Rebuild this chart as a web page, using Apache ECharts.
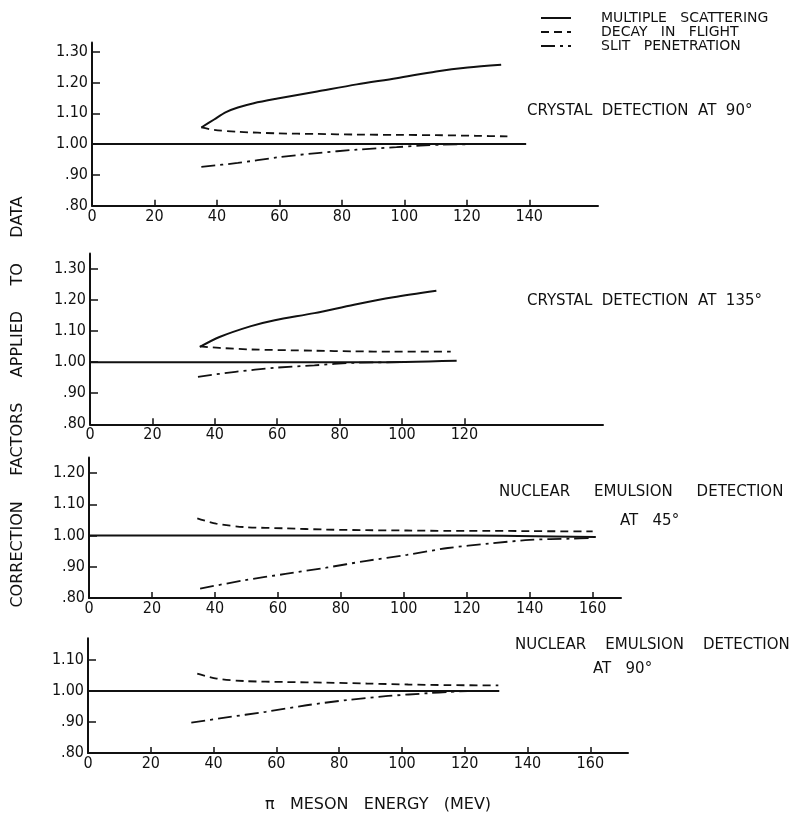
<!DOCTYPE html>
<html>
<head>
<meta charset="utf-8">
<script src="https://cdn.jsdelivr.net/npm/echarts@6/dist/echarts.min.js"></script>
<style>html,body{margin:0;padding:0;background:#fff}#c{width:808px;height:825px}</style>
</head>
<body>
<div id="c"></div>
<script>
// ---- data ----
const seriesNames = ['MULTIPLE   SCATTERING', 'DECAY   IN   FLIGHT', 'SLIT   PENETRATION'];
const panelTitles = ['CRYSTAL  DETECTION  AT  90°', 'CRYSTAL  DETECTION  AT  135°', 'NUCLEAR     EMULSION     DETECTION', 'NUCLEAR    EMULSION    DETECTION'];
const panelSubTitles = ['', '', 'AT   45°', 'AT   90°'];
const xAxisTitle = 'π   MESON   ENERGY   (MEV)';
const yAxisTitle = 'CORRECTION     FACTORS     APPLIED     TO     DATA';

const xTicks1 = [0, 20, 40, 60, 80, 100, 120, 140];
const xTicks2 = [0, 20, 40, 60, 80, 100, 120];
const xTicks3 = [0, 20, 40, 60, 80, 100, 120, 140, 160];
const xTicks4 = [0, 20, 40, 60, 80, 100, 120, 140, 160];
const yTicks1 = [0.8, 0.9, 1.0, 1.1, 1.2, 1.3];
const yTicks2 = [0.8, 0.9, 1.0, 1.1, 1.2, 1.3];
const yTicks3 = [0.8, 0.9, 1.0, 1.1, 1.2];
const yTicks4 = [0.8, 0.9, 1.0, 1.1];

// panel 1: crystal detection at 90°
const p1Base = [[0, 1.0], [139, 1.0]];
const p1MS = [[35, 1.054], [39.1, 1.080], [42.9, 1.104], [46.7, 1.119], [51.8, 1.133], [59.4, 1.148], [72.1, 1.171], [84.8, 1.194], [97.5, 1.214], [110.2, 1.236], [120.3, 1.249], [131, 1.258]];
const p1DF = [[35, 1.054], [39.1, 1.046], [46.7, 1.040], [59.4, 1.035], [72.1, 1.033], [84.8, 1.031], [97.5, 1.030], [110.2, 1.029], [122.9, 1.027], [133, 1.025]];
const p1SP = [[35, 0.926], [46.7, 0.939], [59.4, 0.957], [72.1, 0.971], [84.8, 0.982], [97.5, 0.990], [105, 0.995], [112, 0.998], [123, 1.0]];

// panel 2: crystal detection at 135°
const p2Base = [[0, 1.0], [90, 1.0], [117.5, 1.005]];
const p2MS = [[35.2, 1.049], [41.5, 1.081], [51.6, 1.116], [59.2, 1.135], [71.9, 1.158], [84.6, 1.185], [97.2, 1.209], [111, 1.230]];
const p2DF = [[35.2, 1.051], [41.5, 1.046], [51.6, 1.041], [71.9, 1.037], [84.6, 1.035], [97.2, 1.034], [115.6, 1.034]];
const p2SP = [[34.6, 0.953], [46.6, 0.969], [59.2, 0.982], [71.9, 0.990], [84.6, 0.998], [99.7, 1.0]];

// panel 3: nuclear emulsion detection at 45°
const p3Base = [[0, 1.0], [120, 1.0], [161, 0.995]];
const p3DF = [[34.4, 1.055], [40.4, 1.038], [49.5, 1.027], [62.4, 1.023], [75.3, 1.019], [88.2, 1.017], [101, 1.016], [114, 1.015], [127, 1.015], [140, 1.014], [160, 1.013]];
const p3SP = [[35.3, 0.830], [49.5, 0.857], [62.4, 0.877], [75.3, 0.897], [88.2, 0.919], [101, 0.938], [114, 0.960], [127, 0.974], [140, 0.986], [152.8, 0.990], [160, 0.992]];

// panel 4: nuclear emulsion detection at 90°
const p4Base = [[0, 1.0], [131, 1.0]];
const p4DF = [[34.8, 1.056], [41, 1.040], [50, 1.032], [63, 1.029], [76, 1.027], [89, 1.024], [102, 1.021], [115, 1.019], [130.7, 1.018]];
const p4SP = [[32.9, 0.898], [43.6, 0.914], [56.6, 0.933], [69.6, 0.954], [82.6, 0.971], [95.6, 0.984], [108.6, 0.993], [115, 0.997], [121, 1.0]];

// ---- styling / layout ----
const TICKFONT = '"DejaVu Sans Condensed", "Liberation Sans Narrow", "Liberation Sans", sans-serif';
const FONT = '"DejaVu Sans", "Liberation Sans", sans-serif';
const INK = '#111';

const grids = [
  { left: 92, top: 42.5, width: 506, height: 163.2 },
  { left: 90, top: 253.5, width: 513, height: 170.8 },
  { left: 89, top: 457.4, width: 532, height: 140.6 },
  { left: 88, top: 638.3, width: 540, height: 114.7 }
];
const xMax = [162, 164.4, 169, 172];
const yMax = [1.33, 1.35, 1.25, 1.17];
const xTickSets = [xTicks1, xTicks2, xTicks3, xTicks4];
const yTickSets = [yTicks1, yTicks2, yTicks3, yTicks4];

function yFmt(v) {
  const s = v.toFixed(2);
  return v < 1 ? s.slice(1) : s;
}

const xAxes = xMax.map((mx, i) => ({
  type: 'value', gridIndex: i, min: 0, max: mx,
  splitLine: { show: false },
  axisLine: { show: true, lineStyle: { color: INK, width: 2 } },
  axisTick: { show: true, inside: true, length: 6, customValues: xTickSets[i], lineStyle: { color: INK, width: 1.5 } },
  axisLabel: { show: true, customValues: xTickSets[i], color: INK, fontFamily: TICKFONT, fontSize: 16, margin: 3 }
}));
const yAxes = yMax.map((mx, i) => ({
  type: 'value', gridIndex: i, min: 0.8, max: mx,
  splitLine: { show: false },
  axisLine: { show: true, lineStyle: { color: INK, width: 2 } },
  axisTick: { show: true, inside: true, length: 8, customValues: yTickSets[i], lineStyle: { color: INK, width: 1.5 } },
  axisLabel: { show: true, customValues: yTickSets[i], color: INK, fontFamily: TICKFONT, fontSize: 16, margin: 4, formatter: yFmt }
}));

const solid = { color: INK, width: 2, type: 'solid' };
const dashed = { color: INK, width: 1.8, type: [8, 5] };
const dashDot = { color: INK, width: 1.8, type: [14, 5, 3, 5] };

function line(name, data, idx, style) {
  return {
    name: name, type: 'line', xAxisIndex: idx, yAxisIndex: idx, data: data,
    showSymbol: false, symbol: 'none', smooth: 0.3, animation: false,
    lineStyle: style, itemStyle: { color: INK }, silent: true
  };
}

const series = [
  line('base1', p1Base, 0, solid),
  line(seriesNames[0], p1MS, 0, solid),
  line(seriesNames[1], p1DF, 0, dashed),
  line(seriesNames[2], p1SP, 0, dashDot),
  line('base2', p2Base, 1, solid),
  line(seriesNames[0], p2MS, 1, solid),
  line(seriesNames[1], p2DF, 1, dashed),
  line(seriesNames[2], p2SP, 1, dashDot),
  line('base3', p3Base, 2, solid),
  line(seriesNames[1], p3DF, 2, dashed),
  line(seriesNames[2], p3SP, 2, dashDot),
  line('base4', p4Base, 3, solid),
  line(seriesNames[1], p4DF, 3, dashed),
  line(seriesNames[2], p4SP, 3, dashDot)
];

const txt = (t, left, top, size) => ({
  type: 'text', left: left, top: top,
  style: { text: t, font: (size || 15) + 'px ' + FONT, fill: INK }
});

const option = {
  backgroundColor: '#fff',
  animation: false,
  grid: grids,
  xAxis: xAxes,
  yAxis: yAxes,
  series: series,
  legend: {
    data: seriesNames, orient: 'vertical', left: 535, top: 6,
    itemWidth: 30, itemHeight: 12, itemGap: 0,
    selectedMode: false,
    itemStyle: { opacity: 0, color: 'rgba(0,0,0,0)', borderWidth: 0 },
    textStyle: { fontFamily: FONT, fontSize: 14, color: INK, padding: [0, 0, 0, 25] }
  },
  graphic: [
    txt(panelTitles[0], 527, 104),
    txt(panelTitles[1], 527, 294),
    txt(panelTitles[2], 499, 485),
    txt(panelSubTitles[2], 620, 514),
    txt(panelTitles[3], 515, 638),
    txt(panelSubTitles[3], 593, 662),
    txt(xAxisTitle, 265, 797, 16),
    {
      type: 'text', x: 18, y: 402, rotation: Math.PI / 2,
      style: { text: yAxisTitle, font: '16px ' + FONT, fill: INK, align: 'center', verticalAlign: 'middle' }
    }
  ]
};

const chart = echarts.init(document.getElementById('c'), null, { renderer: 'canvas' });
chart.setOption(option);
</script>
</body>
</html>
